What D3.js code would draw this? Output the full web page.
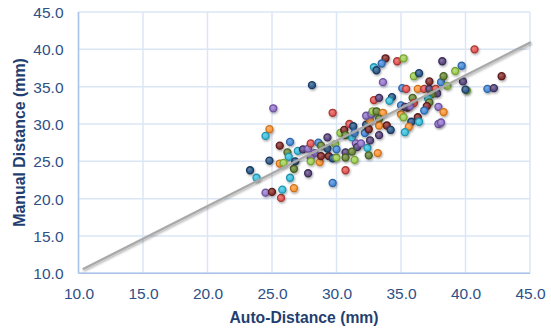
<!DOCTYPE html>
<html>
<head>
<meta charset="utf-8">
<script src="https://cdn.jsdelivr.net/npm/d3@7"></script>
<style>
  html, body { margin: 0; padding: 0; background: #ffffff; }
  svg { display: block; font-family: "Liberation Sans", Arial, sans-serif; }
</style>
</head>
<body>
<svg id="chart" width="551" height="331"></svg>
<script>
// ---- data ----
const autoDist = [
  33.8,33.5,32.9,33.1,34.7,35.2,33.6,28.1,25.1,29.7,
  32.9,33.3,34.3,34.1,24.8,24.5,25.6,26.4,26.2,26.3,
  24.8,25.6,25.9,23.3,26.8,27.0,27.4,27.8,28.0,28.3,
  28.0,28.0,28.7,28.8,29.4,29.7,30.0,29.3,28.6,28.8,
  29.3,29.9,30.0,30.3,30.6,30.7,31.0,31.3,31.2,31.4,
  31.5,31.6,31.9,30.7,31.2,30.7,31.4,32.4,32.6,32.5,
  33.2,33.3,32.2,32.3,32.5,32.6,32.3,32.7,32.8,33.1,
  33.6,33.3,33.3,33.9,34.2,35.0,35.0,35.1,35.4,36.3,
  36.8,37.2,37.7,37.8,37.4,37.1,37.2,37.0,36.8,37.9,
  38.3,35.9,36.0,35.5,35.3,35.7,35.2,36.3,35.8,36.4,
  35.6,35.3,37.9,38.1,38.2,39.7,40.7,39.2,36.0,36.4,
  37.2,38.1,38.3,38.6,39.8,40.1,40.0,41.7,42.2,42.8,
  23.8,24.5,25.0,25.7,25.8,26.7,26.4,26.7,27.8,29.7,
  30.7
];
const manualDist = [
  38.8,38.1,37.6,37.2,38.4,38.8,35.6,35.2,32.1,31.5,
  33.2,33.5,33.6,33.1,29.3,28.4,27.1,27.6,26.2,25.6,
  25.1,24.7,24.8,23.8,25.0,26.4,26.6,26.7,27.4,26.1,
  25.5,25.0,24.9,25.7,25.7,25.4,25.5,28.2,27.5,27.1,
  26.7,27.3,26.6,28.8,29.2,28.5,30.0,29.7,28.2,28.8,
  27.4,26.9,27.4,26.2,26.3,25.5,25.2,26.8,27.8,25.8,
  26.1,28.5,28.8,29.9,29.3,30.5,31.1,31.3,31.7,31.7,
  31.5,30.7,29.8,29.8,29.2,32.5,31.3,34.8,34.7,34.7,
  34.7,34.7,34.7,34.1,34.0,33.4,32.9,32.4,31.8,32.3,
  31.6,33.5,32.8,32.2,32.3,32.4,30.9,30.9,30.3,30.3,
  29.6,28.9,30.0,30.2,38.4,37.8,40.0,37.1,36.4,36.8,
  35.7,35.6,36.4,35.1,35.7,34.5,34.6,34.7,34.8,36.4,
  22.8,20.8,20.9,20.1,21.2,21.4,22.8,24.0,23.4,22.1,
  23.8
];
const pointColor = [
  "DR","B","C","DB","R","G","P","DB","P","R",
  "R","DP","DB","C","O","C","DR","B","DG","C",
  "DB","O","G","DB","DB","C","DP","P","R","P",
  "P","G","O","DR","DR","DB","G","DP","B","DG",
  "DB","G","B","G","DR","DG","R","DB","C","B",
  "P","DP","P","DP","DG","DG","G","C","DP","DG",
  "O","DP","B","DB","DR","O","P","P","G","DG",
  "O","DG","O","DR","DB","B","O","B","R","O",
  "R","DP","R","DP","DG","C","DG","DR","B","P",
  "O","DG","R","DR","DP","P","G","DR","DB","C",
  "O","C","P","P","DP","B","R","G","G","DB",
  "DR","B","DG","G","DP","G","DB","B","DP","DR",
  "C","P","DR","R","C","O","C","DG","DP","B",
  "R"
];
const xTicks = [10, 15, 20, 25, 30, 35, 40, 45];
const yTicks = [10, 15, 20, 25, 30, 35, 40, 45];
const trendX = [10.4, 45.0];
const trendY = [10.6, 40.9];
const xTitle = "Auto-Distance (mm)";
const yTitle = "Manual Distance (mm)";

// ---- styles ----
const palette = {
  B:  { fill: "#4d8fdb", stroke: "#2f66a8" },
  R:  { fill: "#e45c58", stroke: "#a93936" },
  G:  { fill: "#a3d15a", stroke: "#78a338" },
  P:  { fill: "#9a7bcf", stroke: "#6b529c" },
  C:  { fill: "#44c3e0", stroke: "#2494ae" },
  O:  { fill: "#fb9a3e", stroke: "#cf721f" },
  DB: { fill: "#325f8f", stroke: "#1c3b60" },
  DR: { fill: "#8c3432", stroke: "#5a1d1c" },
  DG: { fill: "#6e8c3c", stroke: "#485f25" },
  DP: { fill: "#614d86", stroke: "#3c2f58" }
};
const textColor = "#2e5085";
const titleColor = "#1f3f70";

const svg = d3.select("#chart");
const x = d3.scaleLinear().domain([10, 45]).range([78.5, 530]);
const y = d3.scaleLinear().domain([10, 45]).range([273.3, 12]);

const defs = svg.append("defs");
const shadow = defs.append("filter").attr("id", "shadow")
  .attr("x", "-50%").attr("y", "-50%").attr("width", "200%").attr("height", "200%");
shadow.append("feDropShadow").attr("dx", 0.8).attr("dy", 1.4)
  .attr("stdDeviation", 1.0).attr("flood-color", "#000").attr("flood-opacity", 0.35);

Object.entries(palette).forEach(([k, c]) => {
  const g = defs.append("radialGradient").attr("id", "grad-" + k)
    .attr("cx", "40%").attr("cy", "35%").attr("r", "65%");
  g.append("stop").attr("offset", "0%").attr("stop-color", d3.interpolateRgb(c.fill, "#ffffff")(0.25));
  g.append("stop").attr("offset", "70%").attr("stop-color", c.fill);
  g.append("stop").attr("offset", "100%").attr("stop-color", d3.interpolateRgb(c.fill, "#000000")(0.1));
});

// grid
const grid = svg.append("g");
grid.selectAll("line.h").data(yTicks).enter().append("line")
  .attr("x1", x(10)).attr("x2", x(45))
  .attr("y1", d => y(d)).attr("y2", d => y(d))
  .attr("stroke", "#dbe6f5").attr("stroke-width", 1.5);
grid.selectAll("line.v").data(xTicks).enter().append("line")
  .attr("x1", d => x(d)).attr("x2", d => x(d))
  .attr("y1", y(10)).attr("y2", y(45))
  .attr("stroke", "#dbe6f5").attr("stroke-width", 1.5);

// axes lines
svg.append("line").attr("x1", x(10)).attr("x2", x(10)).attr("y1", y(45)).attr("y2", y(10))
  .attr("stroke", "#aac4ea").attr("stroke-width", 1.5);
svg.append("line").attr("x1", x(10)).attr("x2", x(45)).attr("y1", y(10)).attr("y2", y(10))
  .attr("stroke", "#aac4ea").attr("stroke-width", 1.5);

// axis labels via d3 axes
const fmt = d3.format(".1f");
const gx = svg.append("g").attr("transform", `translate(0,${y(10)})`)
  .call(d3.axisBottom(x).tickValues(xTicks).tickFormat(fmt).tickSize(0));
gx.select(".domain").remove();
gx.selectAll("text").attr("y", 26).attr("dy", null)
  .attr("fill", textColor).style("font-size", "15.5px")
  .style("font-family", "'Liberation Sans', Arial, sans-serif");

const gy = svg.append("g").attr("transform", `translate(${x(10)},0)`)
  .call(d3.axisLeft(y).tickValues(yTicks).tickFormat(fmt).tickSize(0));
gy.select(".domain").remove();
gy.selectAll("text").attr("x", -15).attr("dy", "0.36em")
  .attr("fill", textColor).style("font-size", "15.5px")
  .style("font-family", "'Liberation Sans', Arial, sans-serif");

// points
const pts = autoDist.map((v, i) => ({ ax: v, my: manualDist[i], c: pointColor[i] }));
svg.append("g").selectAll("circle").data(pts).enter().append("circle")
  .attr("cx", d => x(d.ax)).attr("cy", d => y(d.my)).attr("r", 3.5)
  .attr("fill", d => `url(#grad-${d.c})`)
  .attr("stroke", d => palette[d.c].stroke).attr("stroke-width", 1.3)
  .attr("filter", "url(#shadow)");

// trend line
svg.append("line")
  .attr("x1", x(trendX[0])).attr("y1", y(trendY[0]))
  .attr("x2", x(trendX[1])).attr("y2", y(trendY[1]))
  .attr("stroke", "#a9a9a9").attr("stroke-width", 2.3)
  .attr("stroke-linecap", "round")
  .attr("filter", "url(#shadow)");

// titles
svg.append("text").attr("x", 304).attr("y", 323)
  .attr("text-anchor", "middle").attr("fill", titleColor)
  .style("font-size", "15.7px").style("font-weight", "bold").text(xTitle);
svg.append("text").attr("transform", "translate(25,142.5) rotate(-90)")
  .attr("text-anchor", "middle").attr("fill", titleColor)
  .style("font-size", "15.9px").style("font-weight", "bold").text(yTitle);
</script>
</body>
</html>
